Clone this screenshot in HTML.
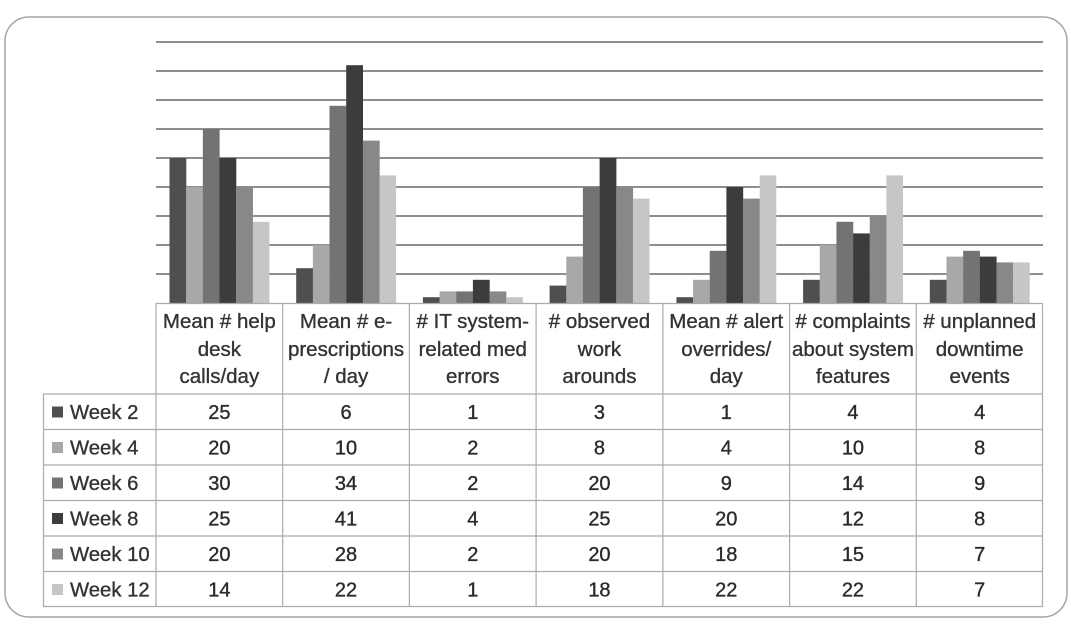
<!DOCTYPE html>
<html><head><meta charset="utf-8"><style>
html,body{margin:0;padding:0;background:#fff;}
svg{display:block;}
text{font-family:"Liberation Sans",sans-serif;}
</style></head><body>
<svg width="1071" height="626" viewBox="0 0 1071 626" xmlns="http://www.w3.org/2000/svg">
<rect x="0" y="0" width="1071" height="626" fill="#fff"/>
<rect x="5" y="17" width="1062" height="600" rx="24" ry="24" fill="#fff" stroke="#a4a4a4" stroke-width="1.5"/>
<g stroke="#8e8e8e" stroke-width="2">
<line x1="156" y1="274" x2="1043" y2="274"/>
<line x1="156" y1="245" x2="1043" y2="245"/>
<line x1="156" y1="216" x2="1043" y2="216"/>
<line x1="156" y1="187" x2="1043" y2="187"/>
<line x1="156" y1="158" x2="1043" y2="158"/>
<line x1="156" y1="129" x2="1043" y2="129"/>
<line x1="156" y1="100" x2="1043" y2="100"/>
<line x1="156" y1="71" x2="1043" y2="71"/>
<line x1="156" y1="42" x2="1043" y2="42"/>
</g>
<g fill="#4f4f4f">
<rect x="169.5" y="158" width="16.8" height="145"/>
<rect x="296.2" y="268.2" width="16.8" height="34.8"/>
<rect x="422.9" y="297.2" width="16.8" height="5.8"/>
<rect x="549.6" y="285.6" width="16.8" height="17.4"/>
<rect x="676.4" y="297.2" width="16.8" height="5.8"/>
<rect x="803.1" y="279.8" width="16.8" height="23.2"/>
<rect x="929.8" y="279.8" width="16.8" height="23.2"/>
</g>
<g fill="#a8a8a8">
<rect x="186.17" y="187" width="16.8" height="116"/>
<rect x="312.87" y="245" width="16.8" height="58"/>
<rect x="439.57" y="291.4" width="16.8" height="11.6"/>
<rect x="566.27" y="256.6" width="16.8" height="46.4"/>
<rect x="693.07" y="279.8" width="16.8" height="23.2"/>
<rect x="819.77" y="245" width="16.8" height="58"/>
<rect x="946.47" y="256.6" width="16.8" height="46.4"/>
</g>
<g fill="#737373">
<rect x="202.83" y="129" width="16.8" height="174"/>
<rect x="329.53" y="105.8" width="16.8" height="197.2"/>
<rect x="456.23" y="291.4" width="16.8" height="11.6"/>
<rect x="582.93" y="187" width="16.8" height="116"/>
<rect x="709.73" y="250.8" width="16.8" height="52.2"/>
<rect x="836.43" y="221.8" width="16.8" height="81.2"/>
<rect x="963.13" y="250.8" width="16.8" height="52.2"/>
</g>
<g fill="#3c3c3c">
<rect x="219.5" y="158" width="16.8" height="145"/>
<rect x="346.2" y="65.2" width="16.8" height="237.8"/>
<rect x="472.9" y="279.8" width="16.8" height="23.2"/>
<rect x="599.6" y="158" width="16.8" height="145"/>
<rect x="726.4" y="187" width="16.8" height="116"/>
<rect x="853.1" y="233.4" width="16.8" height="69.6"/>
<rect x="979.8" y="256.6" width="16.8" height="46.4"/>
</g>
<g fill="#888888">
<rect x="236.17" y="187" width="16.8" height="116"/>
<rect x="362.87" y="140.6" width="16.8" height="162.4"/>
<rect x="489.57" y="291.4" width="16.8" height="11.6"/>
<rect x="616.27" y="187" width="16.8" height="116"/>
<rect x="743.07" y="198.6" width="16.8" height="104.4"/>
<rect x="869.77" y="216" width="16.8" height="87"/>
<rect x="996.47" y="262.4" width="16.8" height="40.6"/>
</g>
<g fill="#c6c6c6">
<rect x="252.83" y="221.8" width="16.6" height="81.2"/>
<rect x="379.53" y="175.4" width="16.6" height="127.6"/>
<rect x="506.23" y="297.2" width="16.6" height="5.8"/>
<rect x="632.93" y="198.6" width="16.6" height="104.4"/>
<rect x="759.73" y="175.4" width="16.6" height="127.6"/>
<rect x="886.43" y="175.4" width="16.6" height="127.6"/>
<rect x="1013.13" y="262.4" width="16.6" height="40.6"/>
</g>
<g stroke="#ababab" stroke-width="1.2" fill="none">
<line x1="156" y1="303.5" x2="1043" y2="303.5"/>
<line x1="43" y1="394" x2="1043" y2="394"/>
<line x1="43" y1="429.5" x2="1043" y2="429.5"/>
<line x1="43" y1="465" x2="1043" y2="465"/>
<line x1="43" y1="500.5" x2="1043" y2="500.5"/>
<line x1="43" y1="536" x2="1043" y2="536"/>
<line x1="43" y1="571.5" x2="1043" y2="571.5"/>
<line x1="43" y1="606.5" x2="1043" y2="606.5"/>
<line x1="43.5" y1="394" x2="43.5" y2="606.5"/>
<line x1="156" y1="303" x2="156" y2="606.5"/>
<line x1="282.7" y1="303" x2="282.7" y2="606.5"/>
<line x1="409.4" y1="303" x2="409.4" y2="606.5"/>
<line x1="536.1" y1="303" x2="536.1" y2="606.5"/>
<line x1="662.9" y1="303" x2="662.9" y2="606.5"/>
<line x1="789.6" y1="303" x2="789.6" y2="606.5"/>
<line x1="916.3" y1="303" x2="916.3" y2="606.5"/>
<line x1="1042.5" y1="303" x2="1042.5" y2="606.5"/>
</g>
<g font-size="20.5" fill="#333" stroke="#333" stroke-width="0.35" text-anchor="middle">
<text x="219.35" y="328">Mean #  help</text>
<text x="219.35" y="356">desk</text>
<text x="219.35" y="383">calls/day</text>
<text x="346.05" y="328">Mean # e-</text>
<text x="346.05" y="356">prescriptions</text>
<text x="346.05" y="383">/ day</text>
<text x="472.75" y="328"># IT system-</text>
<text x="472.75" y="356">related med</text>
<text x="472.75" y="383">errors</text>
<text x="599.45" y="328"># observed</text>
<text x="599.45" y="356">work</text>
<text x="599.45" y="383">arounds</text>
<text x="726.25" y="328">Mean # alert</text>
<text x="726.25" y="356">overrides/</text>
<text x="726.25" y="383">day</text>
<text x="852.95" y="328"># complaints</text>
<text x="852.95" y="356">about system</text>
<text x="852.95" y="383">features</text>
<text x="979.65" y="328"># unplanned</text>
<text x="979.65" y="356">downtime</text>
<text x="979.65" y="383">events</text>
</g>
<g font-size="20" fill="#2a2a2a" stroke="#2a2a2a" stroke-width="0.35" text-anchor="middle">
<text x="219.35" y="419">25</text><text x="346.05" y="419">6</text><text x="472.75" y="419">1</text><text x="599.45" y="419">3</text><text x="726.25" y="419">1</text><text x="852.95" y="419">4</text><text x="979.65" y="419">4</text>
<text x="219.35" y="454.5">20</text><text x="346.05" y="454.5">10</text><text x="472.75" y="454.5">2</text><text x="599.45" y="454.5">8</text><text x="726.25" y="454.5">4</text><text x="852.95" y="454.5">10</text><text x="979.65" y="454.5">8</text>
<text x="219.35" y="490">30</text><text x="346.05" y="490">34</text><text x="472.75" y="490">2</text><text x="599.45" y="490">20</text><text x="726.25" y="490">9</text><text x="852.95" y="490">14</text><text x="979.65" y="490">9</text>
<text x="219.35" y="525.5">25</text><text x="346.05" y="525.5">41</text><text x="472.75" y="525.5">4</text><text x="599.45" y="525.5">25</text><text x="726.25" y="525.5">20</text><text x="852.95" y="525.5">12</text><text x="979.65" y="525.5">8</text>
<text x="219.35" y="561">20</text><text x="346.05" y="561">28</text><text x="472.75" y="561">2</text><text x="599.45" y="561">20</text><text x="726.25" y="561">18</text><text x="852.95" y="561">15</text><text x="979.65" y="561">7</text>
<text x="219.35" y="596.5">14</text><text x="346.05" y="596.5">22</text><text x="472.75" y="596.5">1</text><text x="599.45" y="596.5">18</text><text x="726.25" y="596.5">22</text><text x="852.95" y="596.5">22</text><text x="979.65" y="596.5">7</text>
</g>
<g>
<rect x="52" y="406.5" width="11" height="11" fill="#4f4f4f"/>
<rect x="52" y="442" width="11" height="11" fill="#a8a8a8"/>
<rect x="52" y="477.5" width="11" height="11" fill="#737373"/>
<rect x="52" y="513" width="11" height="11" fill="#3c3c3c"/>
<rect x="52" y="548.5" width="11" height="11" fill="#888888"/>
<rect x="52" y="584" width="11" height="11" fill="#c6c6c6"/>
</g>
<g font-size="20.3" fill="#333" stroke="#333" stroke-width="0.35">
<text x="70" y="419">Week 2</text>
<text x="70" y="454.5">Week 4</text>
<text x="70" y="490">Week 6</text>
<text x="70" y="525.5">Week 8</text>
<text x="70" y="561">Week 10</text>
<text x="70" y="596.5">Week 12</text>
</g>
</svg>
</body></html>
